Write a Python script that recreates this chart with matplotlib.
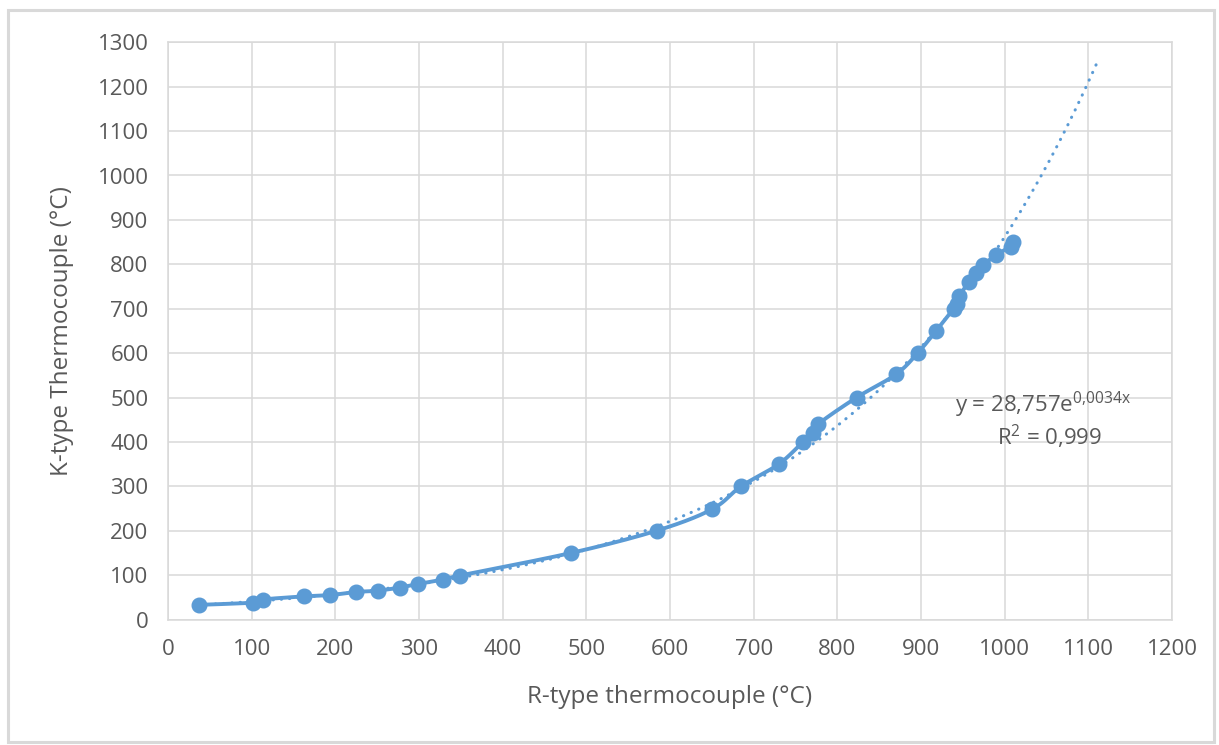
"""
Recreate the Excel-style scatter: K-type vs R-type thermocouple readings,
smoothed line with markers plus a dotted exponential trendline.
"""
import numpy as np
import matplotlib
matplotlib.use("Agg")
import matplotlib.pyplot as plt
from matplotlib.patches import Rectangle

# data
r_type = [37, 101, 113, 162, 194, 225, 251, 277, 299, 329, 349, 482, 584, 650,
          685, 730, 759, 771, 777, 823, 870, 896, 918, 939, 943, 946, 957, 966,
          974, 990, 1007, 1010]
k_type = [33, 38, 45, 52, 55, 62, 65, 72, 80, 90, 99, 150, 200, 248,
          300, 350, 400, 420, 440, 500, 552, 600, 650, 700, 710, 728, 760, 780,
          798, 821, 840, 850]

# trendline shown on the chart: y = a * exp(b x)
trend_a = 28.757
trend_b = 0.0034
trend_x_end = 1110
trend_label = r"y = 28,757e$^{\mathrm{0{,}0034x}}$"
r2_label = r"R$^{\mathrm{2}}$ = 0,999"

x_ticks = list(range(0, 1300, 100))
y_ticks = list(range(0, 1400, 100))

BLUE = "#5B9BD5"
GRID = "#D9D9D9"
TEXT = "#595959"

plt.rcParams["font.family"] = ["Open Sans", "DejaVu Sans"]
plt.rcParams["mathtext.fontset"] = "custom"
plt.rcParams["mathtext.rm"] = "Open Sans"
plt.rcParams["mathtext.it"] = "Open Sans"


def smooth(xs, ys, n=20):
    """Catmull-Rom curve through the points, like Excel's smoothed line."""
    p = np.column_stack([xs, ys]).astype(float)
    p = np.vstack([p[0], p, p[-1]])
    out = []
    t = np.linspace(0, 1, n, endpoint=False)[:, None]
    for i in range(1, len(p) - 2):
        p0, p1, p2, p3 = p[i - 1], p[i], p[i + 1], p[i + 2]
        seg = 0.5 * ((2 * p1) + (-p0 + p2) * t
                     + (2 * p0 - 5 * p1 + 4 * p2 - p3) * t ** 2
                     + (-p0 + 3 * p1 - 3 * p2 + p3) * t ** 3)
        out.append(seg)
    out.append(p[-2][None, :])
    out = np.vstack(out)
    return out[:, 0], out[:, 1]


W, H = 1219, 745
fig = plt.figure(figsize=(W / 100, H / 100), dpi=100)
ax = fig.add_axes([168 / W, (H - 619.5) / H, (1172 - 168) / W, (619.5 - 42.3) / H])

# chart border
fig.patches.append(Rectangle((8 / W, 3 / H), (1214 - 8) / W, 732 / H,
                             transform=fig.transFigure, fill=False,
                             edgecolor=GRID, lw=2.2))

# trendline
tx = np.linspace(min(r_type), trend_x_end, 300)
ax.plot(tx, trend_a * np.exp(trend_b * tx), color=BLUE, lw=2.2,
        linestyle=(0, (0.1, 2.6)), dash_capstyle="round", zorder=3)

# smoothed data line with markers
sx, sy = smooth(r_type, k_type)
ax.plot(sx, sy, color=BLUE, lw=2.8, zorder=4, solid_capstyle="round")
ax.plot(r_type, k_type, "o", color=BLUE, ms=10.5, zorder=5)

ax.set_xlim(0, 1200)
ax.set_ylim(0, 1300)
ax.set_xticks(x_ticks)
ax.set_yticks(y_ticks)
ax.tick_params(length=0, labelsize=16, labelcolor=TEXT, pad=14)
ax.grid(True, color=GRID, lw=1.1)
ax.set_axisbelow(True)
for s in ax.spines.values():
    s.set_color(GRID)
    s.set_linewidth(1.1)

fig.text(670 / W, 1 - 697 / H, "R-type thermocouple (°C)", ha="center",
         va="center", fontsize=17.5, color=TEXT)
fig.text(62 / W, 1 - 331 / H, "K-type Thermocouple (°C)", ha="center",
         va="center", rotation=90, fontsize=17.5, color=TEXT)

fig.text(955 / W, 1 - 405 / H, trend_label, ha="left", va="center",
         fontsize=16, color=TEXT)
fig.text(1102 / W, 1 - 437 / H, r2_label, ha="right", va="center",
         fontsize=16, color=TEXT)

fig.savefig("out.png", dpi=100, facecolor="white")
